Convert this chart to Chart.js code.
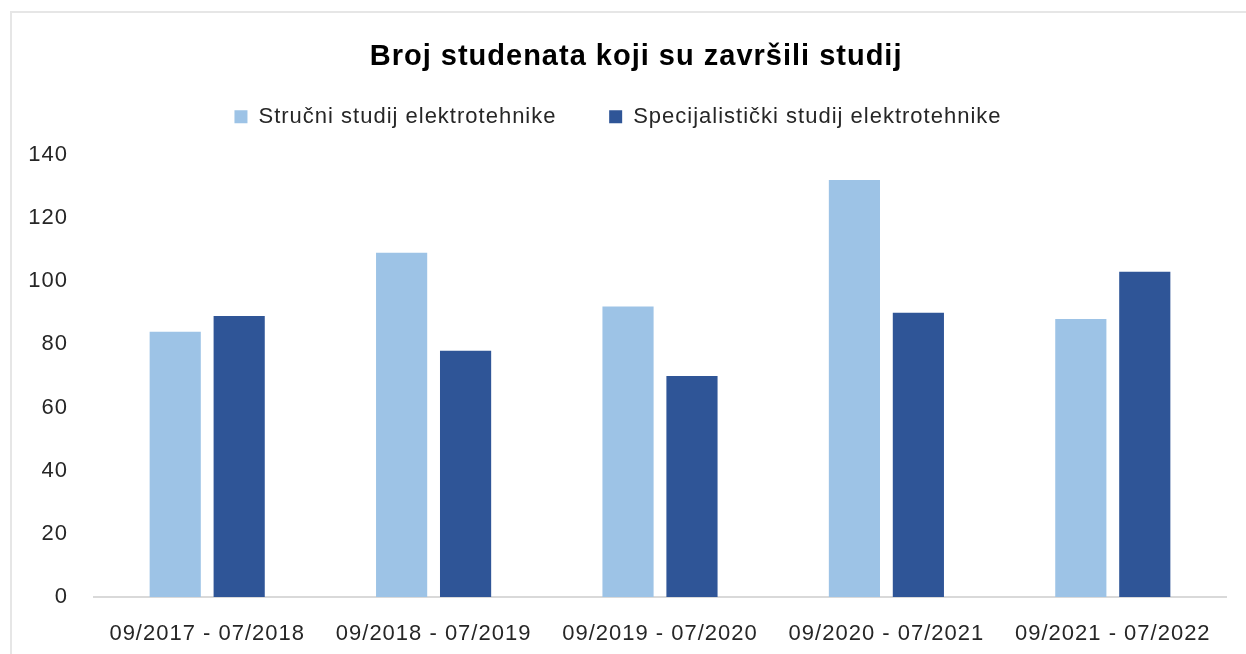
<!DOCTYPE html>
<html>
<head>
<meta charset="utf-8">
<script src="https://cdn.jsdelivr.net/npm/chart.js@4.4.0/dist/chart.umd.min.js"></script>
<style>
  html, body { margin: 0; padding: 0; background: #fff; }
  #wrap { position: absolute; left: 0; top: 0; width: 1246px; height: 654px; }
  #frame { position: absolute; left: 10px; top: 11px; width: 1250px; height: 660px;
           border-left: 2px solid #e6e6e6; border-top: 2px solid #e6e6e6; box-sizing: border-box; }
</style>
</head>
<body>
<div id="wrap">
  <div id="frame"></div>
  <canvas id="graduatesChart" width="1246" height="654"></canvas>
</div>
<script>
// Academic years
const categories = ['09/2017 - 07/2018', '09/2018 - 07/2019', '09/2019 - 07/2020', '09/2020 - 07/2021', '09/2021 - 07/2022'];
const seriesNames = ['Stručni studij elektrotehnike', 'Specijalistički studij elektrotehnike'];
const strucni = [84, 109, 92, 132, 88];
const specijalisticki = [89, 78, 70, 90, 103];
const yTicks = [0, 20, 40, 60, 80, 100, 120, 140];

const textColor = '#262626';
const font = 'Liberation Sans, Arial, sans-serif';

// Excel-like loose text spacing
const spacing = {
    id: 'spacing',
    beforeUpdate(chart) { chart.ctx.letterSpacing = '1px'; },
    beforeDraw(chart) { chart.ctx.letterSpacing = '1px'; }
};

const ctx = document.getElementById('graduatesChart');
new Chart(ctx, {
    type: 'bar',
    data: {
        labels: categories,
        datasets: [{
            label: seriesNames[0],
            data: strucni,
            backgroundColor: '#9DC3E6',
        }, {
            label: seriesNames[1],
            data: specijalisticki,
            backgroundColor: '#2F5597',
        }]
    },
    options: {
        responsive: false,
        animation: false,
        devicePixelRatio: 1,
        categoryPercentage: 0.565,
        barPercentage: 0.8,
        layout: {
            padding: { left: 10, right: 20, top: 11, bottom: 0 }
        },
        plugins: {
            title: {
                display: true,
                // leading spaces nudge the title a bit right, like the original
                text: '    Broj studenata koji su završili studij',
                color: '#000',
                font: { family: font, size: 29, weight: 'bold' },
                padding: { top: 29, bottom: 21 }
            },
            // empty subtitle used as spacer under the legend
            subtitle: {
                display: true,
                text: '',
                weight: 500,
                font: { size: 1, lineHeight: 1 },
                padding: { top: 0, bottom: 16 }
            },
            legend: {
                position: 'top',
                labels: {
                    color: textColor,
                    font: { family: font, size: 22 },
                    boxWidth: 13,
                    boxHeight: 13,
                    padding: 10,
                    generateLabels: (chart) => {
                        const items = Chart.defaults.plugins.legend.labels.generateLabels(chart);
                        items[0].text = items[0].text + '      ';
                        return items;
                    }
                }
            },
            tooltip: { enabled: false }
        },
        scales: {
            x: {
                grid: { display: false, drawTicks: false },
                border: { display: true, color: '#d9d9d9', width: 2 },
                ticks: {
                    color: textColor,
                    font: { family: font, size: 22 },
                    padding: 24,
                    maxRotation: 0
                },
                afterFit: (scale) => { scale.height = 57; }
            },
            y: {
                min: 0,
                max: 140,
                grid: { display: false, drawTicks: false },
                border: { display: false },
                afterBuildTicks: (scale) => { scale.ticks = yTicks.map(v => ({ value: v })); },
                ticks: {
                    color: textColor,
                    font: { family: font, size: 22 },
                    padding: 26
                },
                afterFit: (scale) => { scale.width = 84; }
            }
        }
    },
    plugins: [spacing]
});
</script>
</body>
</html>
